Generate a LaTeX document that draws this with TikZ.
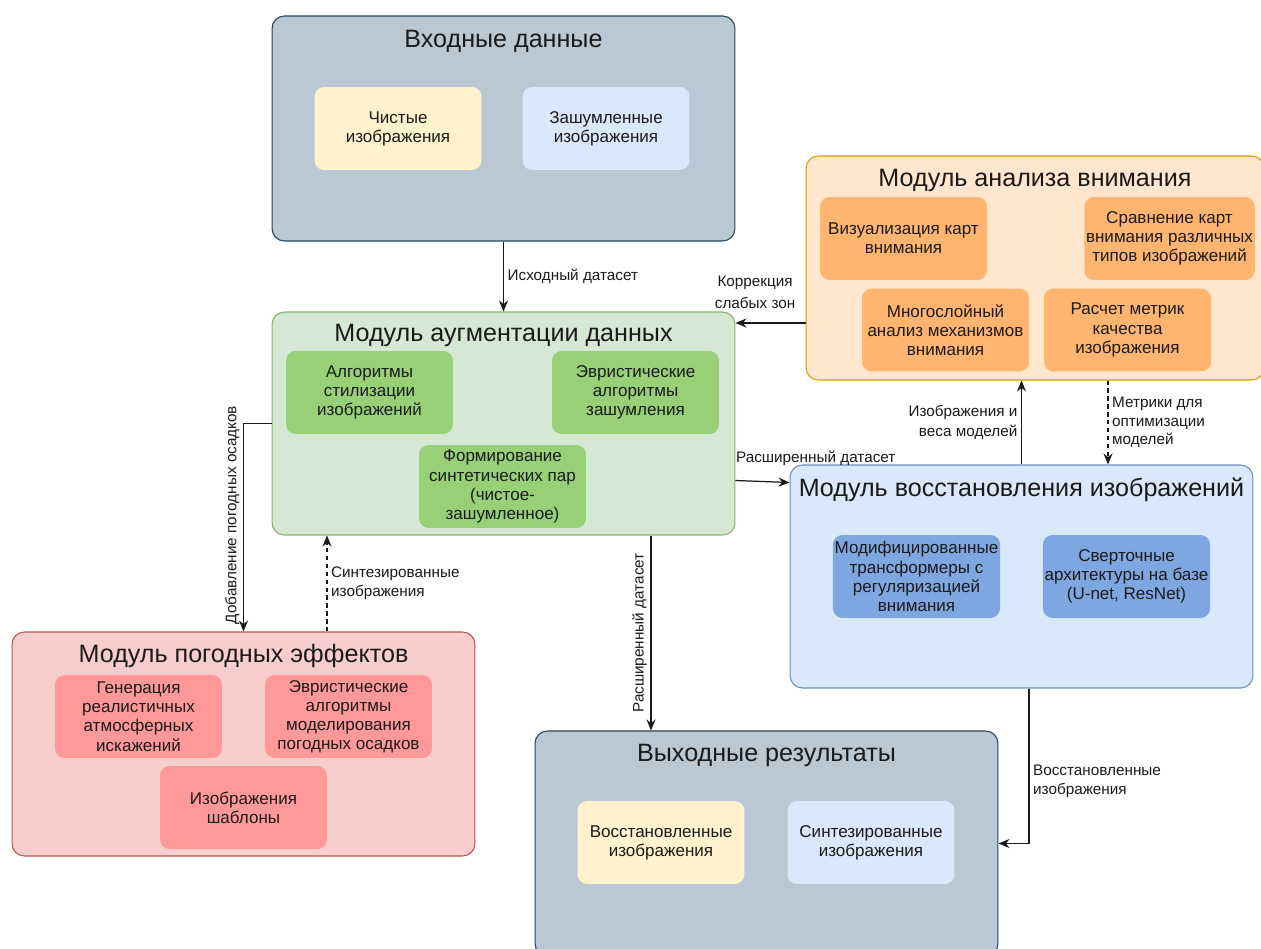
\documentclass[tikz,border=0pt]{standalone}
\usepackage{fontspec}
\setmainfont{Liberation Sans}
\usetikzlibrary{arrows.meta,calc}
\definecolor{Ink}{HTML}{1A1A1A}
\definecolor{Slate}{HTML}{BAC8D3}
\definecolor{SlateLine}{HTML}{23445D}
\definecolor{Cream}{HTML}{FFF2CC}
\definecolor{Sky}{HTML}{DAE8FC}
\definecolor{SkyLine}{HTML}{6C8EBF}
\definecolor{SkyDeep}{HTML}{7EA6E0}
\definecolor{Mint}{HTML}{D5E8D4}
\definecolor{MintLine}{HTML}{82B366}
\definecolor{MintDeep}{HTML}{97D077}
\definecolor{Peach}{HTML}{FFE6CC}
\definecolor{PeachLine}{HTML}{D79B00}
\definecolor{PeachDeep}{HTML}{FFB570}
\definecolor{Rose}{HTML}{F8CECC}
\definecolor{RoseLine}{HTML}{B85450}
\definecolor{RoseDeep}{HTML}{FF9999}
\tikzset{
  panel/.style={draw,rounded corners=7pt,line width=0.6pt,minimum width=9.26cm,minimum height=4.46cm},
  paneltitle/.style={font=\fontsize{14.3}{17}\selectfont,text=Ink},
  itembox/.style={rounded corners=5.5pt,minimum width=3.34cm,minimum height=1.66cm,align=center,font=\fontsize{9.7}{10.9}\selectfont,text=Ink,inner sep=1pt},
  line/.style={-{Stealth[length=2.2mm,width=1.8mm]},draw=Ink,line width=0.7pt},
  dashline/.style={line,dash pattern=on 2.5pt off 2pt},
  lbl/.style={font=\fontsize{8.7}{10.6}\selectfont,text=Ink,align=left,inner sep=2pt}
}
\begin{document}
\begin{tikzpicture}[x=0.02cm,y=-0.02cm]
  \useasboundingbox (0,0) rectangle (1261,949);
  \node[panel,draw=SlateLine,fill=Slate,minimum height=4.5cm] (input) at (503.5,128.5) {};
  \node[paneltitle] (inputT) at ($(input.north)+(0,26)$) {Входные данные};
  \node[itembox,fill=Cream] (clean) at (398,128.5) {Чистые\\изображения};
  \node[itembox,fill=Sky] (noisy) at (606,128.5) {Зашумленные\\изображения};

  \node[panel,draw=MintLine,fill=Mint] (aug) at (503.5,423.5) {};
  \node[paneltitle] (augT) at ($(aug.north)+(0,24)$) {Модуль аугментации данных};
  \node[itembox,fill=MintDeep] (styl) at (369.5,392.5) {Алгоритмы\\стилизации\\изображений};
  \node[itembox,fill=MintDeep] (heur) at (635.5,392.5) {Эвристические\\алгоритмы\\зашумления};
  \node[itembox,fill=MintDeep] (pairs) at (502.5,486.5) {Формирование\\синтетических пар\\(чистое-\\зашумленное)};

  \node[panel,draw=PeachLine,fill=Peach,minimum width=9.16cm,minimum height=4.48cm] (attn) at (1035,268) {};
  \node[paneltitle] (attnT) at ($(attn.north)+(0,25)$) {Модуль анализа внимания};
  \node[itembox,fill=PeachDeep] (vis) at (903.5,238.5) {Визуализация карт\\внимания};
  \node[itembox,fill=PeachDeep] (cmp) at (1169.5,238.5) {Сравнение карт\\внимания различных\\типов изображений};
  \node[itembox,fill=PeachDeep] (multi) at (945.5,330) {Многослойный\\анализ механизмов\\внимания};
  \node[itembox,fill=PeachDeep] (metr) at (1127.5,330) {Расчет метрик\\качества\\изображения};

  \node[panel,draw=SkyLine,fill=Sky] (rest) at (1021.5,576.5) {};
  \node[paneltitle] (restT) at ($(rest.north)+(0,25)$) {Модуль восстановления изображений};
  \node[itembox,fill=SkyDeep] (trans) at (916.5,576.5) {Модифицированные\\трансформеры с\\регуляризацией\\внимания};
  \node[itembox,fill=SkyDeep] (conv) at (1126.5,576.5) {Сверточные\\архитектуры на базе\\(U-net, ResNet)};

  \node[panel,draw=RoseLine,fill=Rose,minimum height=4.48cm] (weather) at (243.5,744) {};
  \node[paneltitle] (weatherT) at ($(weather.north)+(0,25)$) {Модуль погодных эффектов};
  \node[itembox,fill=RoseDeep] (gen) at (138.5,716.5) {Генерация\\реалистичных\\атмосферных\\искажений};
  \node[itembox,fill=RoseDeep] (heurw) at (348.5,716.5) {Эвристические\\алгоритмы\\моделирования\\погодных осадков};
  \node[itembox,fill=RoseDeep] (tmpl) at (243.5,807.5) {Изображения\\шаблоны};

  \node[panel,draw=SlateLine,fill=Slate,minimum height=4.5cm] (out) at (766.5,843.5) {};
  \node[paneltitle] (outT) at ($(out.north)+(0,25)$) {Выходные результаты};
  \node[itembox,fill=Cream] (restored) at (661,842.5) {Восстановленные\\изображения};
  \node[itembox,fill=Sky] (synth) at (871,842.5) {Синтезированные\\изображения};

  \draw[line] (input) -- node[lbl,right] {Исходный датасет} (aug);
  \draw[line] ($(attn.west)+(0,55)$) coordinate (corr) -- node[lbl,above,pos=0.72,align=center,yshift=6pt,font=\fontsize{8.7}{12.4}\selectfont] {Коррекция\\слабых зон} (corr -| aug.east);
  \draw[line] (rest.north) -- node[lbl,left,align=right,font=\fontsize{8.7}{11.4}\selectfont] {Изображения и\\веса моделей} (rest.north |- attn.south);
  \draw[dashline] ($(attn.south)+(73,0)$) coordinate (mtr) -- node[lbl,right] {Метрики для\\оптимизации\\ моделей} (mtr |- rest.north);
  \draw[line] ($(aug.east)+(0,57)$) coordinate (ext) -- node[lbl,above right,pos=0,yshift=6pt,xshift=-2pt] {Расширенный датасет} ($(rest.west)+(0,-94)$);
  \draw[line] ($(aug.south)+(147.5,0)$) coordinate (dn) -- node[lbl,rotate=90,anchor=south] {Расширенный датасет} (dn |- out.north);
  \draw[line] (aug.west) -| node[lbl,pos=0.72,rotate=90,anchor=south] {Добавление погодных осадков} (weather.north);
  \draw[dashline] ($(weather.north)+(83.5,0)$) coordinate (syn) -- node[lbl,right] {Синтезированные\\ изображения} (syn |- aug.south);
  \draw[line] ($(rest.south)+(7.5,0)$) |- node[lbl,right,pos=0.3] {Восстановленные\\ изображения} (out.east);
\end{tikzpicture}
\end{document}
